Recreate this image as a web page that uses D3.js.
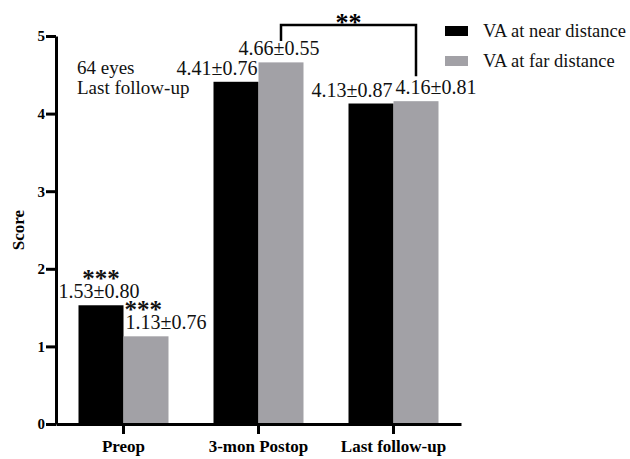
<!DOCTYPE html>
<html><head><meta charset="utf-8">
<script src="https://cdn.jsdelivr.net/npm/d3@7"></script>
<style>
body{margin:0;background:#fff;}
text{font-family:"Liberation Serif","Times New Roman",serif;}
</style></head>
<body><svg id="c" width="630" height="459"></svg>
<script>
const categories = ["Preop", "3-mon Postop", "Last follow-up"];
const seriesNames = ["VA at near distance", "VA at far distance"];
const nearMean = [1.53, 4.41, 4.13];
const nearSD = [0.80, 0.76, 0.87];
const farMean = [1.13, 4.66, 4.16];
const farSD = [0.76, 0.55, 0.81];
const nearStars = ["***", "", ""];
const farStars = ["***", "", ""];
const yTicks = [0, 1, 2, 3, 4, 5];
const colors = ["#000000", "#a2a1a6"];
const nearAnchor = ["middle", "end", "end"];
const farAnchor = ["start", "middle", "start"];

const svg = d3.select("#c");
const x0 = 56, x1 = 461, yTop = 36, yBot = 424;
const x = d3.scaleBand().domain(categories).range([x0, x1]).paddingInner(1/3).paddingOuter(1/6);
const xs = d3.scaleBand().domain([0, 1]).range([0, x.bandwidth()]);
const y = d3.scaleLinear().domain([0, 5]).range([yBot, yTop]);

const series = [
  {mean: nearMean, sd: nearSD, stars: nearStars, anchor: nearAnchor},
  {mean: farMean, sd: farSD, stars: farStars, anchor: farAnchor}
];

series.forEach((s, si) => {
  categories.forEach((c, i) => {
    const bx = x(c) + xs(si), bw = xs.bandwidth();
    const top = y(s.mean[i]);
    svg.append("rect").attr("x", bx).attr("y", top).attr("width", bw).attr("height", yBot - top).attr("fill", colors[si]);
    const a = s.anchor[i];
    const tx = a === "start" ? bx + 2 : a === "end" ? bx + bw - 1 : bx + bw / 2 - 2;
    svg.append("text").attr("x", tx).attr("y", top - 7).attr("text-anchor", a)
      .attr("font-size", 20).attr("fill", "#111")
      .text(s.mean[i].toFixed(2) + "±" + s.sd[i].toFixed(2));
    if (s.stars[i]) {
      svg.append("text").attr("x", a === "start" ? bx + 1 : bx + bw / 2).attr("y", top - 18)
        .attr("text-anchor", a === "start" ? "start" : "middle")
        .attr("font-size", 25).attr("font-weight", "bold").attr("fill", "#111")
        .text(s.stars[i]);
    }
  });
});

// axes
const yAxis = d3.axisLeft(y).tickValues(yTicks).tickSize(10).tickSizeOuter(0).tickPadding(1).tickFormat(d3.format("d"));
const gy = svg.append("g").attr("transform", `translate(${x0},0)`).call(yAxis);
gy.select(".domain").attr("stroke", "#000").attr("stroke-width", 3);
gy.selectAll(".tick line").attr("stroke-width", 3);
gy.selectAll("text").attr("font-size", 15).attr("font-weight", "bold").attr("fill", "#000")
  .style("font-family", '"Liberation Serif","Times New Roman",serif');

const xAxis = d3.axisBottom(x).tickSize(10).tickSizeOuter(0).tickPadding(6);
const gx = svg.append("g").attr("transform", `translate(0,${yBot})`).call(xAxis);
gx.select(".domain").attr("stroke", "#000").attr("stroke-width", 3);
gx.selectAll(".tick line").attr("stroke-width", 3);
gx.selectAll("text").attr("font-size", 17).attr("font-weight", "bold").attr("fill", "#000")
  .style("font-family", '"Liberation Serif","Times New Roman",serif');

svg.append("text").attr("transform", `translate(24,${(yTop + yBot) / 2})`).attr("transform", `translate(24,${(yTop + yBot) / 2}) rotate(-90)`)
  .attr("text-anchor", "middle").attr("font-size", 17).attr("font-weight", "bold").text("Score");

// annotation
svg.append("text").attr("x", 77).attr("y", 74).attr("font-size", 19).attr("fill", "#111").text("64 eyes");
svg.append("text").attr("x", 77).attr("y", 94).attr("font-size", 19).attr("fill", "#111").text("Last follow-up");

// significance bracket between far@3-mon and far@last
const bxL = x(categories[1]) + xs(1) + xs.bandwidth() / 2;
const bxR = x(categories[2]) + xs(1) + xs.bandwidth() / 2;
const brY = 25;
svg.append("path").attr("d", `M${bxL},${brY + 16}V${brY}H${bxR}V${y(farMean[2]) - 25}`)
  .attr("fill", "none").attr("stroke", "#000").attr("stroke-width", 2.5);
svg.append("text").attr("x", (bxL + bxR) / 2).attr("y", 31).attr("text-anchor", "middle")
  .attr("font-size", 26).attr("font-weight", "bold").text("**");

// legend
seriesNames.forEach((n, i) => {
  const ly = 31 + i * 30;
  svg.append("rect").attr("x", 445).attr("y", ly - 5).attr("width", 23).attr("height", 10).attr("fill", colors[i]);
  svg.append("text").attr("x", 483).attr("y", ly + 6).attr("font-size", 18.5).attr("fill", "#111").text(n);
});
</script></body></html>
